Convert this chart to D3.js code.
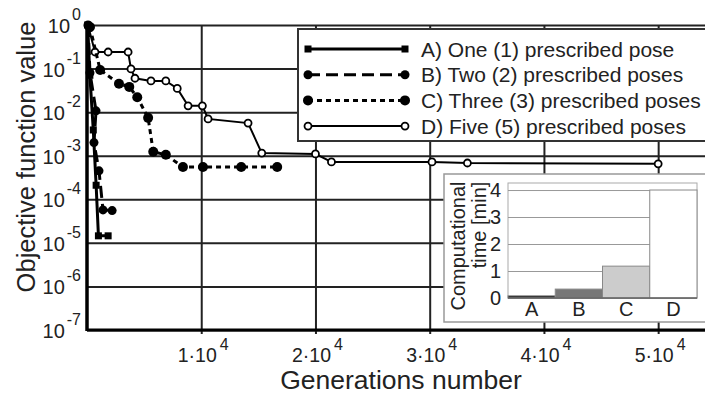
<!DOCTYPE html>
<html>
<head>
<meta charset="utf-8">
<script src="https://cdn.jsdelivr.net/npm/d3@7"></script>
<style>
  body { margin: 0; background: #fff; }
  svg { font-family: "Liberation Sans", Arial, sans-serif; }
</style>
</head>
<body>
<svg id="chart" width="705" height="394"></svg>
<script>
// generations / objective values
const genA = [60, 250, 550, 800, 1000, 1850];
const valA = [1, 0.07, 0.0039, 0.00021, 0.0000145, 0.0000145];

const genB = [90, 260, 790, 610, 1050, 1400, 2200];
const valB = [1, 0.08, 0.0107, 0.002, 0.00045, 0.000057, 0.000055];

const genC = [260, 1150, 2800, 3700, 4400, 5350, 5800, 6900, 8400, 10150, 13500, 16650];
const valC = [0.9, 0.093, 0.045, 0.038, 0.022, 0.0074, 0.00123, 0.00105, 0.00055, 0.00055, 0.00055, 0.00055];

const genD = [100, 700, 1850, 3600, 3850, 4200, 5600, 6900, 7900, 8850, 10100, 10600, 14100, 15300, 20000, 21400, 30200, 33300, 50000];
const valD = [0.95, 0.24, 0.24, 0.24, 0.098, 0.06, 0.052, 0.052, 0.035, 0.014, 0.014, 0.007, 0.0056, 0.00115, 0.0011, 0.00072, 0.00072, 0.00068, 0.00065];

const seriesNames = ["A) One (1) prescribed pose", "B) Two (2) prescribed poses",
                     "C) Three (3) prescribed poses", "D) Five (5) prescribed poses"];

const xTicks = [10000, 20000, 30000, 40000, 50000];
const yTicks = [1, 1e-1, 1e-2, 1e-3, 1e-4, 1e-5, 1e-6, 1e-7];

// inset: computational time
const barCats = ["A", "B", "C", "D"];
const barVals = [0.08, 0.33, 1.18, 4.0];
const barTicks = [0, 1, 2, 3, 4];

const svg = d3.select("#chart");
const mLeft = 87, mRight = 705, mTop = 25, mBottom = 330;

const x = d3.scaleLinear().domain([0, 54100]).range([mLeft, mRight]);
const y = d3.scaleLog().domain([1e-7, 1]).range([mBottom, mTop]);

// grid
svg.append("g")
    .attr("transform", "translate(0," + mBottom + ")")
    .call(d3.axisBottom(x).tickValues(xTicks).tickSize(-(mBottom - mTop)).tickFormat(""))
    .call(g => g.select(".domain").remove())
    .call(g => g.selectAll("line").attr("stroke", "#222").attr("stroke-width", 2).attr("y1", 4));

svg.append("g")
    .attr("transform", "translate(" + mLeft + ",0)")
    .call(d3.axisLeft(y).tickValues(yTicks).tickSize(-(mRight - mLeft)).tickFormat(""))
    .call(g => g.select(".domain").remove())
    .call(g => g.selectAll("line").attr("stroke", "#222").attr("stroke-width", 2));

// axes lines
svg.append("line").attr("x1", mLeft).attr("x2", mRight).attr("y1", mBottom).attr("y2", mBottom)
    .attr("stroke", "#000").attr("stroke-width", 3);
svg.append("line").attr("x1", mLeft).attr("x2", mLeft).attr("y1", mTop - 1).attr("y2", mBottom + 1)
    .attr("stroke", "#000").attr("stroke-width", 3.5);

// tick labels with superscripts
const yExp = d => Math.round(Math.log10(d));
svg.append("g").selectAll("text")
    .data(yTicks).enter().append("text")
    .attr("x", mLeft - 6)
    .attr("y", d => y(d) + 8)
    .attr("text-anchor", "end")
    .attr("font-size", 20)
    .attr("fill", "#222")
    .each(function(d) {
        const t = d3.select(this);
        t.append("tspan").text("10");
        t.append("tspan").attr("dy", -13).attr("dx", 2).attr("font-size", 16).text(yExp(d));
    });

svg.append("g").selectAll("text")
    .data(xTicks).enter().append("text")
    .attr("x", d => x(d) + 2)
    .attr("y", 362)
    .attr("text-anchor", "middle")
    .attr("font-size", 19.5)
    .attr("fill", "#222")
    .each(function(d) {
        const t = d3.select(this);
        t.append("tspan").text((d / 10000) + "\u00b710");
        t.append("tspan").attr("dy", -12).attr("dx", 3).attr("font-size", 16).text("4");
    });

svg.append("text")
    .attr("transform", "translate(35,157) rotate(-90)")
    .attr("text-anchor", "middle")
    .attr("font-size", 25.5)
    .attr("fill", "#222")
    .text("Objective function value");

svg.append("text")
    .attr("x", 401).attr("y", 389)
    .attr("text-anchor", "middle")
    .attr("font-size", 26.5)
    .attr("fill", "#222")
    .text("Generations number");

// series
const line = d3.line().x(d => x(d[0])).y(d => y(d[1]));
const zip = (a, b) => a.map((v, i) => [v, b[i]]);

const series = [
    { pts: zip(genA, valA), dash: null, width: 3, mark: "square" },
    { pts: zip(genB, valB), dash: "12,6", width: 3, mark: "dot" },
    { pts: zip(genC, valC), dash: "5,4", width: 3, mark: "bigdot" },
    { pts: zip(genD, valD), dash: null, width: 2, mark: "open" }
];

function drawMarks(g, pts, mark) {
    if (mark === "square") {
        g.selectAll("rect.m").data(pts).enter().append("rect")
            .attr("x", d => d[0] - 3.5).attr("y", d => d[1] - 3.5)
            .attr("width", 7).attr("height", 7).attr("fill", "#000");
    } else if (mark === "open") {
        g.selectAll("circle.m").data(pts).enter().append("circle")
            .attr("cx", d => d[0]).attr("cy", d => d[1]).attr("r", 3.5)
            .attr("fill", "#fff").attr("stroke", "#000").attr("stroke-width", 1.8);
    } else {
        g.selectAll("circle.m").data(pts).enter().append("circle")
            .attr("cx", d => d[0]).attr("cy", d => d[1]).attr("r", mark === "bigdot" ? 5 : 4.5)
            .attr("fill", "#000");
    }
}

series.slice().reverse().forEach(s => {
    const g = svg.append("g");
    g.append("path").attr("d", line(s.pts))
        .attr("fill", "none").attr("stroke", "#000")
        .attr("stroke-width", s.width)
        .attr("stroke-dasharray", s.dash);
    drawMarks(g, s.pts.map(p => [x(p[0]), y(p[1])]), s.mark);
});

// legend
const lg = svg.append("g");
lg.append("rect").attr("x", 298).attr("y", 29).attr("width", 420).attr("height", 112)
    .attr("fill", "#fff").attr("stroke", "#333").attr("stroke-width", 2);
series.forEach((s, i) => {
    const yy = 49 + i * 25.7;
    const g = lg.append("g");
    g.append("line").attr("x1", 308).attr("x2", 405).attr("y1", yy).attr("y2", yy)
        .attr("stroke", "#000").attr("stroke-width", s.width)
        .attr("stroke-dasharray", s.dash);
    drawMarks(g, [[308, yy], [405, yy]], s.mark);
    g.append("text").attr("x", 421).attr("y", yy + 7.5)
        .attr("font-size", 21).attr("fill", "#222").text(seriesNames[i]);
});

// inset bar chart
const inset = svg.append("g");
inset.append("rect").attr("x", 444).attr("y", 174).attr("width", 270).attr("height", 148)
    .attr("fill", "#fff").attr("stroke", "#999").attr("stroke-width", 1.5);

const bx = d3.scaleBand().domain(barCats).range([508, 697]).padding(0);
const by = d3.scaleLinear().domain([0, 4.26]).range([298, 183]);

inset.append("rect").attr("x", 508).attr("y", 183).attr("width", 189).attr("height", 115)
    .attr("fill", "none").attr("stroke", "#aaa").attr("stroke-width", 1);

inset.append("g")
    .attr("transform", "translate(508,0)")
    .call(d3.axisLeft(by).tickValues(barTicks).tickSize(-189).tickFormat(""))
    .call(g => g.select(".domain").remove())
    .call(g => g.selectAll("line").attr("stroke", "#999").attr("stroke-width", 1));

const barFill = ["#111", "#777", "#ccc", "#fff"];
inset.selectAll("rect.bar").data(barVals).enter().append("rect")
    .attr("class", "bar")
    .attr("x", (d, i) => bx(barCats[i]))
    .attr("y", d => by(d))
    .attr("width", bx.bandwidth())
    .attr("height", d => 298 - by(d))
    .attr("fill", (d, i) => barFill[i])
    .attr("stroke", "#888").attr("stroke-width", 1);

inset.append("line").attr("x1", 508).attr("x2", 697).attr("y1", 298).attr("y2", 298)
    .attr("stroke", "#666").attr("stroke-width", 1.5);

inset.append("g")
    .attr("transform", "translate(0,298)")
    .call(d3.axisBottom(bx).tickSize(0).tickPadding(4))
    .call(g => g.select(".domain").remove())
    .call(g => g.selectAll("text").attr("font-size", 20).attr("fill", "#222")
        .attr("font-family", "Liberation Sans, Arial, sans-serif"));

inset.append("g").selectAll("text")
    .data(barTicks).enter().append("text")
    .attr("x", 501).attr("y", d => by(d) + 7)
    .attr("text-anchor", "end").attr("font-size", 20).attr("fill", "#222")
    .text(d => d);

inset.append("text")
    .attr("transform", "translate(465,246) rotate(-90)")
    .attr("text-anchor", "middle").attr("font-size", 20).attr("fill", "#222")
    .text("Computational");
inset.append("text")
    .attr("transform", "translate(486,225) rotate(-90)")
    .attr("text-anchor", "middle").attr("font-size", 20).attr("fill", "#222")
    .text("time [min]");
</script>
</body>
</html>
